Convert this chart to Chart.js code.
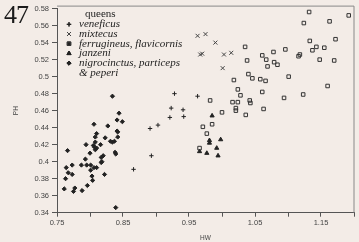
<!DOCTYPE html>
<html>
  <head>
    <title>Fig 47 queens HW vs PH</title>
    <script src="https://cdn.jsdelivr.net/npm/chart.js"></script>
    <style>
      body { margin: 0; background: #f3ece7; }
      .wrap { position: relative; width: 359px; height: 242px; }
      .fig { position: absolute; left: 4px; top: 0px; font: 26px "Liberation Serif", serif; color: #1a1a1a; letter-spacing: -1px; }
    </style>
  </head>
  <body>
    <div class="wrap">
      <canvas id="chart" width="359" height="242"></canvas>
      <div class="fig">47</div>
    </div>
    <script>
      // values (HW on x, PH on y)
      const veneficusHW = [0.928, 0.963, 0.923, 0.941, 0.921, 0.942, 0.903, 0.891, 0.893, 0.866];
      const veneficusPH = [0.480, 0.477, 0.463, 0.461, 0.452, 0.453, 0.443, 0.439, 0.407, 0.391];

      const mixtecusHW = [0.963, 0.975, 0.990, 0.967, 0.970, 1.003, 1.014, 1.001];
      const mixtecusPH = [0.548, 0.550, 0.540, 0.526, 0.527, 0.526, 0.528, 0.510];

      const ferrugineusHW = [1.132, 1.192, 1.124, 1.163, 1.172, 1.133, 1.035, 1.143, 1.155, 1.137,
                             1.096, 1.078, 1.061, 1.118, 1.116, 1.038, 1.067, 1.079, 1.084, 1.148,
                             1.170, 1.069, 1.018, 1.040, 1.046, 1.058, 1.066, 1.101, 1.160, 1.024,
                             1.028, 1.061, 1.123, 1.094, 0.982, 1.016, 1.024, 1.042, 1.043, 1.021,
                             1.021, 1.063, 1.000, 1.036, 0.971, 0.985, 0.977, 0.966];
      const ferrugineusPH = [0.576, 0.572, 0.563, 0.565, 0.544, 0.542, 0.535, 0.535, 0.534, 0.531,
                             0.532, 0.529, 0.525, 0.526, 0.524, 0.519, 0.520, 0.517, 0.514, 0.520,
                             0.519, 0.512, 0.496, 0.503, 0.498, 0.497, 0.495, 0.500, 0.489, 0.485,
                             0.478, 0.482, 0.479, 0.475, 0.472, 0.470, 0.470, 0.472, 0.469, 0.463,
                             0.460, 0.462, 0.458, 0.455, 0.441, 0.444, 0.433, 0.416];

      const janzeniHW = [0.985, 0.998, 0.981, 0.981, 0.992, 0.966, 0.977, 0.994];
      const janzeniPH = [0.454, 0.426, 0.425, 0.422, 0.416, 0.412, 0.410, 0.407];

      const nigrocinctusHW = [0.834, 0.844, 0.841, 0.849, 0.806, 0.827, 0.841, 0.842, 0.810, 0.842,
                              0.808, 0.823, 0.837, 0.834, 0.831, 0.808, 0.794, 0.805, 0.816, 0.807,
                              0.810, 0.808, 0.766, 0.800, 0.838, 0.839, 0.820, 0.817, 0.793, 0.818,
                              0.817, 0.764, 0.773, 0.787, 0.795, 0.801, 0.806, 0.810, 0.767, 0.773,
                              0.801, 0.803, 0.822, 0.763, 0.804, 0.796, 0.761, 0.777, 0.775, 0.788,
                              0.839];
      const nigrocinctusPH = [0.477, 0.457, 0.449, 0.447, 0.444, 0.442, 0.436, 0.435, 0.433, 0.429,
                              0.429, 0.428, 0.424, 0.423, 0.424, 0.423, 0.420, 0.419, 0.420, 0.417,
                              0.416, 0.414, 0.413, 0.410, 0.411, 0.409, 0.407, 0.405, 0.403, 0.400,
                              0.399, 0.393, 0.396, 0.396, 0.396, 0.396, 0.393, 0.393, 0.387, 0.385,
                              0.390, 0.383, 0.385, 0.380, 0.378, 0.372, 0.368, 0.369, 0.365, 0.366,
                              0.346];

      const legendTitle = 'queens';
      const legendLabels = ['veneficus', 'mixtecus', 'ferrugineus, flavicornis', 'janzeni',
                            'nigrocinctus, particeps', '& peperi'];

      const ink = '#222';
      const pts = (xs, ys) => xs.map((x, i) => ({ x: x, y: ys[i] }));

      // draws the key inside the plot, top left
      const keyPlugin = {
        id: 'key',
        afterDraw(chart) {
          const ctx = chart.ctx;
          const area = chart.chartArea;
          const x0 = area.left + 12, y0 = area.top + 6, row = 9.7;
          ctx.save();
          ctx.fillStyle = ink;
          ctx.textBaseline = 'middle';
          ctx.font = '11px "Liberation Serif", serif';
          ctx.fillText(legendTitle, x0 + 16, y0);
          ctx.font = 'italic 11px "Liberation Serif", serif';
          chart.data.datasets.forEach((ds, i) => {
            const y = y0 + row * (i + 1);
            Chart.helpers.drawPoint(ctx, {
              pointStyle: ds.pointStyle, radius: ds.pointRadius,
              borderWidth: ds.borderWidth, rotation: 0
            }, x0, y);
            ctx.fillStyle = ds.backgroundColor;
            ctx.strokeStyle = ds.borderColor;
            ctx.lineWidth = ds.borderWidth;
            if (ds.backgroundColor !== 'rgba(0,0,0,0)') ctx.fill();
            ctx.stroke();
            ctx.fillStyle = ink;
            ctx.fillText(legendLabels[i], x0 + 10, y);
          });
          ctx.fillText(legendLabels[5], x0 + 10, y0 + row * 6);
          // frame top and right
          ctx.strokeStyle = '#888';
          ctx.lineWidth = 1;
          ctx.beginPath();
          ctx.moveTo(area.left, area.top - 2.5);
          ctx.lineTo(area.right, area.top - 2.5);
          ctx.lineTo(area.right, area.bottom);
          ctx.stroke();
          ctx.restore();
        }
      };

      new Chart(document.getElementById('chart'), {
        type: 'scatter',
        data: {
          datasets: [
            { label: legendLabels[0], data: pts(veneficusHW, veneficusPH), pointStyle: 'cross',
              pointRadius: 2.2, borderWidth: 1, borderColor: ink, backgroundColor: ink },
            { label: legendLabels[1], data: pts(mixtecusHW, mixtecusPH), pointStyle: 'crossRot',
              pointRadius: 2.8, borderWidth: 1, borderColor: '#444', backgroundColor: '#444' },
            { label: legendLabels[2], data: pts(ferrugineusHW, ferrugineusPH), pointStyle: 'rect',
              pointRadius: 2.5, borderWidth: 1, borderColor: '#333', backgroundColor: 'rgba(0,0,0,0)' },
            { label: legendLabels[3], data: pts(janzeniHW, janzeniPH), pointStyle: 'triangle',
              pointRadius: 2.4, borderWidth: 1, borderColor: ink, backgroundColor: ink },
            { label: legendLabels[4], data: pts(nigrocinctusHW, nigrocinctusPH), pointStyle: 'rectRot',
              pointRadius: 2.1, borderWidth: 1, borderColor: ink, backgroundColor: ink }
          ]
        },
        options: {
          responsive: false,
          animation: false,
          layout: { padding: { top: 8.6, right: 2, left: 0, bottom: 0 } },
          plugins: { legend: { display: false }, tooltip: { enabled: false } },
          scales: {
            x: {
              type: 'linear', min: 0.75, max: 1.2,
              afterFit: s => { s.height = 29.3; },
              border: { display: true, color: '#555', width: 1 },
              grid: { display: true, drawOnChartArea: false, tickLength: 4, color: '#555' },
              ticks: {
                stepSize: 0.05, padding: 2, color: '#444', maxRotation: 0, autoSkip: false,
                font: { family: 'Liberation Sans', size: 7.5 },
                callback: (v) => {
                  const k = Math.round((v - 0.75) / 0.05);
                  return (k % 2 === 0 && k < 9) ? v.toFixed(2).replace(/0$/, '') : '';
                }
              },
              title: { display: true, text: 'HW', color: '#444', padding: { top: 1, bottom: 0 },
                       font: { family: 'Liberation Sans', size: 6.5 } }
            },
            y: {
              type: 'linear', min: 0.34, max: 0.58,
              afterFit: s => { s.width = 57; },
              border: { display: true, color: '#555', width: 1 },
              grid: { display: true, drawOnChartArea: false, tickLength: 5, color: '#555' },
              ticks: {
                stepSize: 0.02, padding: 3, color: '#444',
                font: { family: 'Liberation Sans', size: 7.5 },
                callback: v => String(Math.round(v * 100) / 100)
              },
              title: { display: true, text: 'PH', color: '#444', padding: { top: 12, bottom: 0 },
                       font: { family: 'Liberation Sans', size: 6.5 } }
            }
          }
        },
        plugins: [keyPlugin]
      });
    </script>
  </body>
</html>
